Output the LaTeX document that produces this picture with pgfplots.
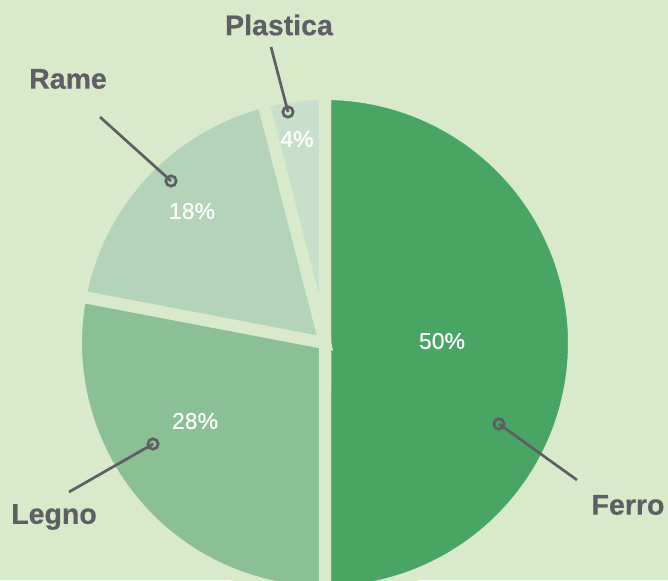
\documentclass[border=0pt]{standalone}
\usepackage{fontspec}
\setmainfont{Liberation Sans}
\newfontfamily\lblfont[FakeBold=0.5]{Liberation Sans}
\newfontfamily\pctfont[FakeBold=0.6]{Liberation Sans}
\usepackage{pgfplots}
\pgfplotsset{compat=1.18}

\definecolor{bgc}{HTML}{D9EACB}
\definecolor{ferro}{HTML}{48A563}
\definecolor{legno}{HTML}{8BC094}
\definecolor{rame}{HTML}{B3D4B8}
\definecolor{plastica}{HTML}{C8E0CB}
\definecolor{lblgray}{HTML}{5F5F63}

% #1 cumulative share before the slice, #2 share (percent), #3 colour
\newcommand\pieslice[3]{%
  \addplot[fill=#3, draw=bgc, line width=12pt, samples=150, variable=\t,
    domain=90-3.6*(#1+#2):90-3.6*(#1)]
    ({249*cos(\t)},{249*sin(\t)}) -- (axis cs:0,0) -- cycle;
}
% leader line: label end, then the ring end
\newcommand\leader[5]{%
  \addplot[lblgray, line width=2.7pt, mark=o, mark indices={2}, mark size=5.2pt,
    mark options={fill=#5, line width=2.7pt}]
    coordinates {(#1,#2) (#3,#4)};
}

\begin{document}
\begin{tikzpicture}
\begin{axis}[
    width=668pt, height=580pt, scale only axis,
    xmin=-325, xmax=343, ymin=-237, ymax=343,
    axis line style={draw=none}, ticks=none,
    axis background/.style={fill=bgc},
    clip=true,
  ]
  \pieslice{0}{50}{ferro}
  \pieslice{50}{28}{legno}
  \pieslice{78}{18}{rame}
  \pieslice{96}{4}{plastica}

  \leader{252}{-137}{174}{-81}{ferro}
  \leader{-256}{-149}{-172}{-101}{legno}
  \leader{-225}{226}{-154}{162}{rame}
  \leader{-54}{296}{-37}{231}{plastica}

  \begin{scope}[every node/.style={text=white, font=\pctfont\fontsize{23}{26}\selectfont}]
    \node at (axis cs:117,2) {50\%};
    \node at (axis cs:-130,-78) {28\%};
    \node at (axis cs:-133,132) {18\%};
    \node at (axis cs:-28,204) {4\%};
  \end{scope}
  \begin{scope}[every node/.style={text=lblgray, font=\lblfont\fontsize{28.5}{32}\selectfont\bfseries}]
    \node at (axis cs:-46,318) {Plastica};
    \node at (axis cs:-257,264) {Rame};
    \node at (axis cs:-271,-174) {Legno};
    \node at (axis cs:303,-162) {Ferro};
  \end{scope}
\end{axis}
\pgfresetboundingbox
\useasboundingbox (current axis.south west) rectangle (current axis.north east);
\end{tikzpicture}
\end{document}
